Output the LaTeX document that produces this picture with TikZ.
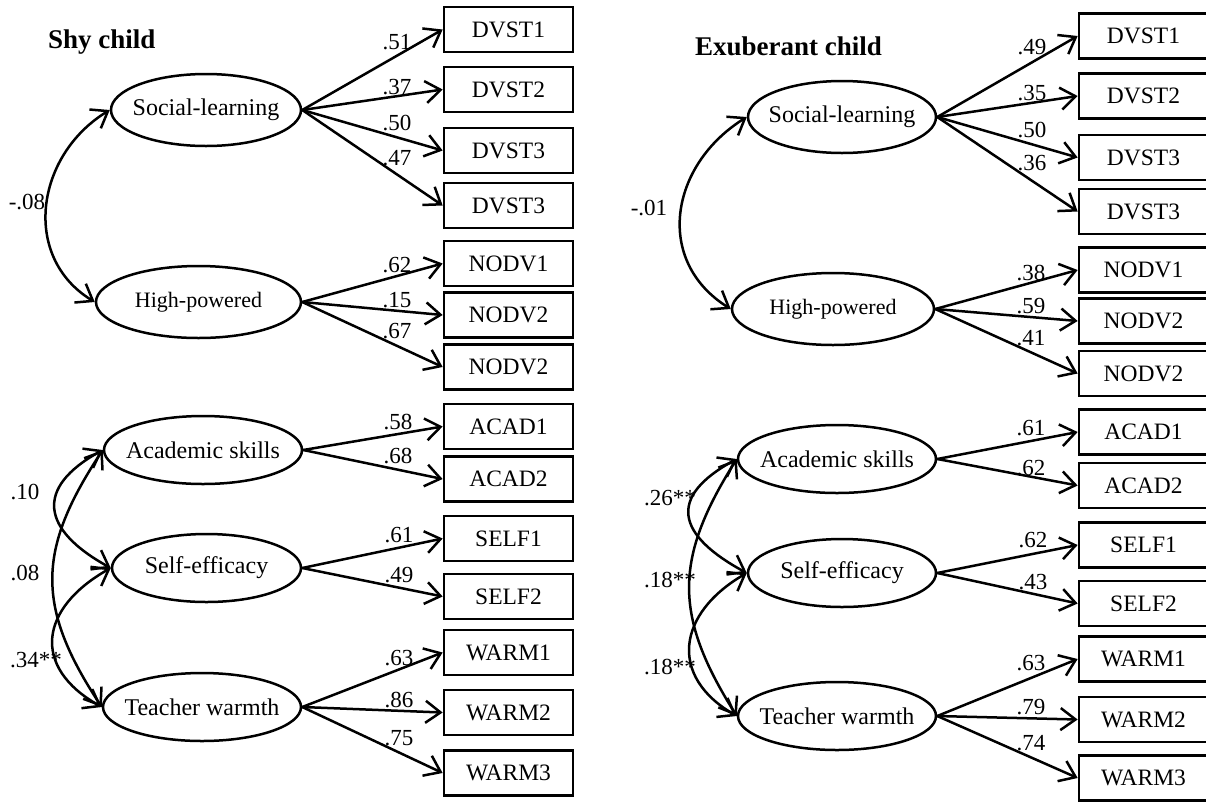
\documentclass[tikz,border=0pt]{standalone}
\usepackage{fontspec}
\setmainfont{Liberation Serif}
\usetikzlibrary{arrows.meta,shapes.geometric,positioning}

\begin{document}
\begin{tikzpicture}[x=1pt,y=-1pt,
  >={Straight Barb[length=15pt,width=22pt]},
  lat/.style={draw,ellipse,line width=2.5pt,minimum height=72pt,
    inner xsep=-30pt,inner ysep=0pt,font=\fontsize{24}{28}\selectfont},
  obs/.style={draw,line width=2.7pt,minimum width=129pt,minimum height=45pt,
    inner sep=0pt,font=\fontsize{23.5}{28}\selectfont},
  coef/.style={inner sep=0pt,font=\fontsize{23}{26}\selectfont},
  ttl/.style={anchor=base west,inner sep=0pt,font=\fontsize{27}{32}\selectfont\bfseries},
  load/.style={->,line width=2.5pt},
  cov/.style={<->,line width=2.5pt}]
  \useasboundingbox (0,0) rectangle (1206,801);

  \node[ttl] (shy) at (48,48) {Shy child};
  \node[ttl] (exu) at (695,55) {Exuberant child};

  % shy child
  \node[lat,minimum width=190pt] (Lsl) at (206,110) {Social-learning};
  \node[lat,minimum width=205pt,font=\fontsize{22}{26}\selectfont] (Lhp) at (198.5,302) {High-powered};
  \node[lat,minimum width=198pt,minimum height=68pt] (Las) at (203,450) {Academic skills};
  \node[lat,minimum width=189pt,minimum height=68pt] (Lse) at (206.5,568) {Self-efficacy};
  \node[lat,minimum width=198pt,minimum height=68pt] (Ltw) at (202,707) {Teacher warmth};

  \foreach \nm/\y/\txt/\ly/\c in {d1/29.5/DVST1/42/.51, d2/89.5/DVST2/87/.37,
      d3/150.5/DVST3/123/.50, d4/205.5/DVST3/158/.47}{
    \node[obs] (L\nm) at (508.5,\y) {\txt};
    \draw[load] (Lsl.east) -- (L\nm.west);
    \node[coef] (Lc\nm) at (397,\ly) {\c};
  }
  \foreach \nm/\y/\txt/\ly/\c in {n1/263.5/NODV1/265/.62, n2/315/NODV2/300/.15,
      n3/367/NODV2/331/.67}{
    \node[obs] (L\nm) at (508.5,\y) {\txt};
    \draw[load] (Lhp.east) -- (L\nm.west);
    \node[coef] (Lc\nm) at (397,\ly) {\c};
  }
  \foreach \nm/\y/\txt/\ly/\c in {a1/426.5/ACAD1/422/.58, a2/479/ACAD2/456/.68}{
    \node[obs] (L\nm) at (508.5,\y) {\txt};
    \draw[load] (Las.east) -- (L\nm.west);
    \node[coef] (Lc\nm) at (398,\ly) {\c};
  }
  \foreach \nm/\y/\txt/\ly/\c in {s1/538.5/SELF1/535/.61, s2/596.5/SELF2/575/.49}{
    \node[obs] (L\nm) at (508.5,\y) {\txt};
    \draw[load] (Lse.east) -- (L\nm.west);
    \node[coef] (Lc\nm) at (399,\ly) {\c};
  }
  \foreach \nm/\y/\txt/\ly/\c in {w1/652.5/WARM1/658/.63, w2/712.5/WARM2/700/.86,
      w3/773/WARM3/738/.75}{
    \node[obs] (L\nm) at (508.5,\y) {\txt};
    \draw[load] (Ltw.east) -- (L\nm.west);
    \node[coef] (Lc\nm) at (399,\ly) {\c};
  }

  \draw[cov] (Lsl.west) .. controls +(-74,45) and +(-74,-45) .. (Lhp.west);
  \draw[cov] (Las.west) .. controls +(-69,38) and +(-69,-38) .. (Lse.west);
  \draw[cov] (Lse.west) .. controls +(-71,40) and +(-71,-40) .. (Ltw.west);
  \draw[cov] (Las.west) .. controls +(-66,100) and +(-66,-100) .. (Ltw.west);
  \node[coef] (Lr1) at (27,202) {-.08};
  \node[coef] (Lr2) at (25,492) {.10};
  \node[coef] (Lr3) at (25,573) {.08};
  \node[coef] (Lr4) at (36,660) {.34**};

  % exuberant child
  \node[lat,minimum width=188pt] (Rsl) at (842,117) {Social-learning};
  \node[lat,minimum width=202pt,font=\fontsize{22}{26}\selectfont] (Rhp) at (833,309) {High-powered};
  \node[lat,minimum width=198pt,minimum height=68pt] (Ras) at (837,459) {Academic skills};
  \node[lat,minimum width=188pt,minimum height=68pt] (Rse) at (842,573) {Self-efficacy};
  \node[lat,minimum width=198pt,minimum height=68pt] (Rtw) at (837,716) {Teacher warmth};

  \foreach \nm/\y/\txt/\ly/\c in {d1/36/DVST1/47/.49, d2/96/DVST2/93/.35,
      d3/157.5/DVST3/130/.50, d4/211.5/DVST3/163/.36}{
    \node[obs] (R\nm) at (1143.5,\y) {\txt};
    \draw[load] (Rsl.east) -- (R\nm.west);
    \node[coef] (Rc\nm) at (1032,\ly) {\c};
  }
  \foreach \nm/\y/\txt/\ly/\c in {n1/270/NODV1/273/.38, n2/321/NODV2/306/.59,
      n3/373.5/NODV2/338/.41}{
    \node[obs] (R\nm) at (1143.5,\y) {\txt};
    \draw[load] (Rhp.east) -- (R\nm.west);
    \node[coef] (Rc\nm) at (1031,\ly) {\c};
  }
  \foreach \nm/\y/\txt/\ly/\c in {a1/432/ACAD1/428/.61, a2/485.5/ACAD2/468/.62}{
    \node[obs] (R\nm) at (1143.5,\y) {\txt};
    \draw[load] (Ras.east) -- (R\nm.west);
    \node[coef] (Rc\nm) at (1031,\ly) {\c};
  }
  \foreach \nm/\y/\txt/\ly/\c in {s1/545/SELF1/540/.62, s2/603.5/SELF2/582/.43}{
    \node[obs] (R\nm) at (1143.5,\y) {\txt};
    \draw[load] (Rse.east) -- (R\nm.west);
    \node[coef] (Rc\nm) at (1033,\ly) {\c};
  }
  \foreach \nm/\y/\txt/\ly/\c in {w1/659/WARM1/663/.63, w2/719.5/WARM2/707/.79,
      w3/778/WARM3/743/.74}{
    \node[obs] (R\nm) at (1143.5,\y) {\txt};
    \draw[load] (Rtw.east) -- (R\nm.west);
    \node[coef] (Rc\nm) at (1031,\ly) {\c};
  }

  \draw[cov] (Rsl.west) .. controls +(-77,48) and +(-77,-48) .. (Rhp.west);
  \draw[cov] (Ras.west) .. controls +(-70,38) and +(-70,-38) .. (Rse.west);
  \draw[cov] (Rse.west) .. controls +(-69,40) and +(-69,-40) .. (Rtw.west);
  \draw[cov] (Ras.west) .. controls +(-63,100) and +(-63,-100) .. (Rtw.west);
  \node[coef] (Rr1) at (649,208) {-.01};
  \node[coef] (Rr2) at (670,498) {.26**};
  \node[coef] (Rr3) at (670,580) {.18**};
  \node[coef] (Rr4) at (670,667) {.18**};
\end{tikzpicture}
\end{document}
